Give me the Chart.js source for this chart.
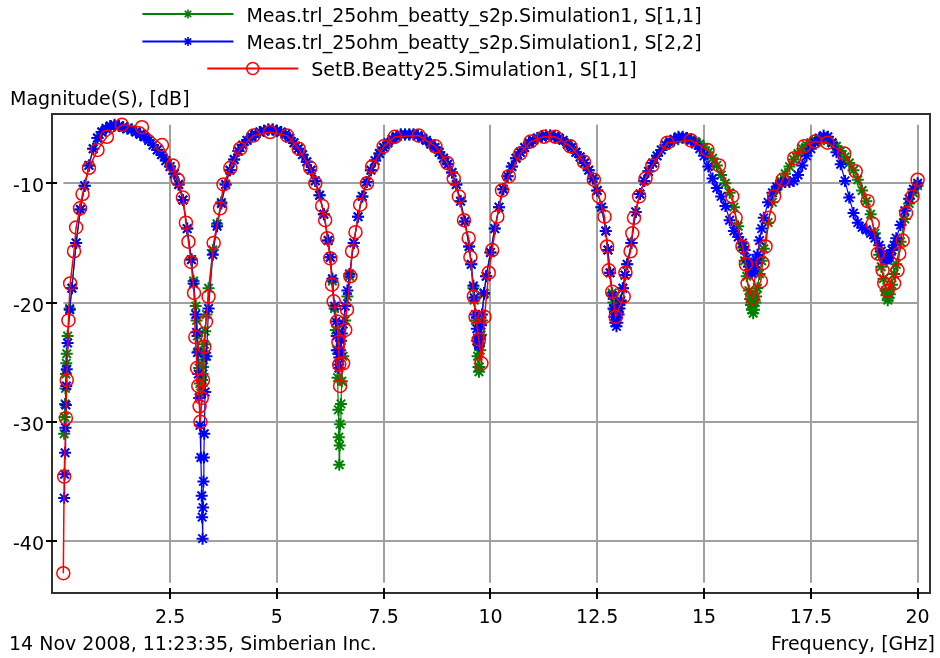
<!DOCTYPE html>
<html lang="en">
<head>
  <meta charset="UTF-8">
  <title>Magnitude(S), [dB]</title>
  <script src="https://cdn.jsdelivr.net/npm/chart.js"></script>
  <style>
    body { margin: 0; background: #fff; }
    #wrap { width: 940px; height: 658px; }
  </style>
</head>
<body>
  <div id="wrap"><canvas id="sChart" width="940" height="658"></canvas></div>

  <script>
    // Measured sweep (GHz), shared by S[1,1] and S[2,2]
    const measFreq = [
      0.02,0.03,0.04,0.05,0.06,0.07,0.08,0.1,0.15,0.2,
      0.3,0.4,0.5,0.6,0.7,0.8,0.9,1.0,1.1,1.2,
      1.3,1.4,1.5,1.6,1.7,1.8,1.9,2.0,2.1,2.2,
      2.3,2.4,2.5,2.6,2.7,2.8,2.9,3.0,3.05,3.1,
      3.12,3.14,3.16,3.18,3.2,3.22,3.24,3.25,3.26,3.27,
      3.28,3.29,3.3,3.32,3.35,3.4,3.5,3.6,3.7,3.8,
      3.9,4.0,4.1,4.2,4.3,4.4,4.5,4.6,4.7,4.8,
      4.9,5.0,5.1,5.2,5.3,5.4,5.5,5.6,5.7,5.8,
      5.9,6.0,6.1,6.2,6.25,6.3,6.35,6.38,6.4,6.42,
      6.44,6.45,6.46,6.47,6.48,6.5,6.52,6.55,6.6,6.65,
      6.7,6.8,6.9,7.0,7.1,7.2,7.3,7.4,7.5,7.6,
      7.7,7.8,7.9,8.0,8.1,8.2,8.3,8.4,8.5,8.6,
      8.7,8.8,8.9,9.0,9.1,9.2,9.3,9.4,9.5,9.55,
      9.6,9.62,9.65,9.68,9.7,9.72,9.73,9.74,9.76,9.78,
      9.8,9.85,9.9,10.0,10.1,10.2,10.3,10.4,10.5,10.6,
      10.7,10.8,10.9,11.0,11.1,11.2,11.3,11.4,11.5,11.6,
      11.7,11.8,11.9,12.0,12.1,12.2,12.3,12.4,12.5,12.6,
      12.7,12.75,12.8,12.85,12.88,12.9,12.92,12.95,12.97,13.0,
      13.02,13.05,13.1,13.15,13.2,13.3,13.4,13.5,13.6,13.7,
      13.8,13.9,14.0,14.1,14.2,14.3,14.4,14.5,14.6,14.7,
      14.8,14.9,15.0,15.1,15.2,15.3,15.4,15.5,15.6,15.7,
      15.8,15.9,15.95,16.0,16.05,16.08,16.1,16.12,16.15,16.17,
      16.2,16.22,16.25,16.3,16.35,16.4,16.5,16.6,16.7,16.8,
      16.9,17.0,17.1,17.2,17.3,17.4,17.5,17.6,17.7,17.8,
      17.9,18.0,18.1,18.2,18.3,18.4,18.5,18.6,18.7,18.8,
      18.9,19.0,19.1,19.15,19.2,19.25,19.27,19.3,19.32,19.35,
      19.4,19.45,19.5,19.6,19.7,19.8,19.9,20.0
    ];

    // Meas.trl_25ohm_beatty_s2p.Simulation1, S[1,1]  (dB)
    const s11Meas = [
      -31.0,-29.6,-28.5,-27.2,-26.0,-25.1,-24.3,-22.8,-20.5,-18.8,
      -15.0,-12.2,-10.2,-8.5,-7.1,-6.2,-5.7,-5.4,-5.2,-5.2,
      -5.2,-5.3,-5.4,-5.5,-5.7,-5.9,-6.1,-6.4,-6.8,-7.2,
      -7.6,-8.1,-8.6,-9.2,-10.1,-11.4,-13.8,-16.4,-18.2,-20.3,
      -21.5,-22.8,-24.1,-25.5,-26.8,-27.6,-27.0,-26.5,-26.0,-25.4,
      -24.8,-24.1,-23.5,-22.4,-21.0,-18.8,-15.6,-13.4,-11.6,-10.1,
      -8.9,-8.0,-7.3,-6.8,-6.4,-6.1,-5.9,-5.7,-5.6,-5.5,
      -5.5,-5.6,-5.7,-5.9,-6.2,-6.6,-7.1,-7.6,-8.2,-8.9,
      -9.8,-11.0,-12.6,-14.8,-16.2,-18.2,-20.5,-22.3,-24.0,-26.3,
      -29.0,-31.3,-33.6,-32.0,-30.2,-28.5,-26.6,-24.5,-21.5,-19.5,
      -17.8,-15.0,-12.8,-11.1,-9.9,-8.9,-8.1,-7.5,-7.0,-6.6,
      -6.3,-6.1,-5.9,-5.9,-5.9,-5.9,-6.0,-6.2,-6.4,-6.7,
      -7.0,-7.4,-7.9,-8.4,-9.1,-10.1,-11.5,-13.2,-15.3,-16.8,
      -18.8,-19.8,-21.5,-23.2,-24.5,-25.4,-25.8,-25.4,-24.0,-22.7,
      -21.5,-19.3,-17.8,-15.8,-13.8,-12.0,-10.5,-9.4,-8.6,-7.9,
      -7.4,-7.0,-6.6,-6.4,-6.2,-6.1,-6.0,-6.0,-6.1,-6.2,
      -6.4,-6.7,-7.0,-7.4,-7.8,-8.3,-8.9,-9.6,-10.6,-12.0,
      -14.0,-15.6,-17.5,-19.2,-20.0,-20.6,-20.9,-21.0,-20.9,-20.5,
      -20.2,-19.8,-18.8,-17.7,-16.8,-15.0,-12.4,-10.9,-9.8,-9.0,
      -8.3,-7.7,-7.2,-6.8,-6.6,-6.4,-6.3,-6.2,-6.2,-6.3,
      -6.5,-6.7,-7.0,-7.4,-7.9,-8.5,-9.3,-10.0,-10.8,-12.0,
      -13.6,-15.4,-16.5,-17.8,-19.0,-19.7,-20.2,-20.6,-20.9,-20.6,
      -20.0,-19.5,-18.8,-17.6,-16.5,-15.5,-13.3,-11.6,-10.5,-9.8,
      -9.2,-8.6,-8.0,-7.5,-7.1,-6.8,-6.6,-6.4,-6.3,-6.3,
      -6.4,-6.6,-6.9,-7.3,-7.8,-8.3,-8.9,-9.7,-10.6,-11.5,
      -12.6,-14.2,-16.0,-17.0,-18.0,-19.0,-19.4,-19.8,-19.6,-19.3,
      -18.5,-17.6,-16.8,-14.9,-13.0,-11.7,-10.8,-10.2
    ];

    // Meas.trl_25ohm_beatty_s2p.Simulation1, S[2,2]  (dB)
    const s22Meas = [
      -36.4,-34.4,-32.6,-30.5,-28.6,-27.0,-25.6,-23.4,-20.6,-18.8,
      -15.0,-12.2,-10.2,-8.5,-7.1,-6.2,-5.7,-5.4,-5.2,-5.1,
      -5.2,-5.3,-5.4,-5.5,-5.7,-5.9,-6.1,-6.4,-6.8,-7.2,
      -7.6,-8.1,-8.6,-9.2,-10.1,-11.4,-13.8,-16.4,-18.4,-21.0,
      -22.5,-24.2,-26.0,-28.0,-30.3,-33.0,-36.2,-38.0,-39.8,-37.2,
      -35.0,-33.0,-31.0,-27.5,-24.5,-20.5,-16.0,-13.6,-11.7,-10.1,
      -8.9,-8.0,-7.3,-6.8,-6.4,-6.1,-5.9,-5.7,-5.6,-5.5,
      -5.5,-5.6,-5.7,-5.9,-6.2,-6.6,-7.1,-7.6,-8.2,-8.9,
      -9.8,-11.0,-12.6,-14.8,-16.2,-18.0,-20.3,-21.6,-22.8,-24.0,
      -25.2,-25.5,-24.6,-24.3,-24.0,-23.2,-22.6,-21.8,-20.3,-19.0,
      -17.6,-15.0,-12.8,-11.1,-9.9,-8.9,-8.1,-7.5,-7.0,-6.6,
      -6.3,-6.1,-5.9,-5.9,-5.9,-5.9,-6.0,-6.2,-6.4,-6.7,
      -7.0,-7.4,-7.9,-8.4,-9.1,-10.1,-11.5,-13.2,-15.3,-16.8,
      -18.6,-19.6,-21.0,-22.2,-23.0,-23.5,-23.6,-23.4,-22.8,-21.9,
      -21.0,-19.2,-17.8,-15.8,-13.8,-12.0,-10.5,-9.4,-8.6,-7.9,
      -7.4,-7.0,-6.6,-6.4,-6.2,-6.1,-6.0,-6.0,-6.1,-6.2,
      -6.4,-6.7,-7.0,-7.4,-7.8,-8.3,-8.9,-9.6,-10.6,-12.0,
      -14.0,-15.6,-17.5,-19.4,-20.5,-21.2,-21.7,-22.0,-21.7,-21.0,
      -20.5,-19.9,-18.8,-17.7,-16.8,-15.0,-12.4,-10.9,-9.8,-9.0,
      -8.3,-7.7,-7.2,-6.8,-6.5,-6.3,-6.1,-6.1,-6.2,-6.4,
      -6.7,-7.1,-7.7,-8.6,-9.6,-10.4,-11.1,-11.9,-13.1,-14.0,
      -14.5,-15.0,-15.6,-16.3,-17.0,-17.3,-17.5,-17.5,-17.3,-17.1,
      -16.7,-16.4,-16.0,-14.8,-13.8,-12.9,-11.6,-10.8,-10.3,-10.0,
      -9.9,-9.9,-9.8,-9.3,-8.5,-7.7,-7.1,-6.6,-6.2,-6.0,
      -6.1,-6.6,-7.4,-8.4,-9.8,-11.2,-12.5,-13.3,-13.7,-13.9,
      -14.2,-14.6,-15.2,-15.7,-16.1,-16.4,-16.4,-16.3,-16.2,-16.0,
      -15.6,-15.2,-14.6,-13.5,-12.3,-11.3,-10.5,-10.0
    ];

    // SetB.Beatty25.Simulation1, S[1,1] - adaptive sweep (GHz / dB)
    const simFreq = [
      0,0.02,0.06,0.08,0.12,0.16,0.25,0.3,0.39,0.45,
      0.6,0.8,1.02,1.37,1.84,2.31,2.56,2.68,2.8,2.87,
      2.93,2.99,3.06,3.09,3.13,3.16,3.19,3.21,3.24,3.27,
      3.3,3.34,3.4,3.52,3.67,3.75,3.91,4.14,4.45,4.84,
      5.24,5.51,5.78,5.9,6.06,6.13,6.18,6.25,6.29,6.33,
      6.41,6.44,6.46,6.48,6.55,6.6,6.64,6.72,6.76,6.84,
      6.95,7.11,7.23,7.5,7.76,8.32,8.71,8.99,9.14,9.26,
      9.38,9.49,9.53,9.61,9.65,9.73,9.79,9.86,9.96,10.04,
      10.16,10.27,10.43,10.7,10.94,11.25,11.52,11.87,12.19,12.42,
      12.54,12.67,12.73,12.77,12.85,12.93,13.12,13.16,13.28,13.32,
      13.36,13.48,13.63,13.79,14.14,14.69,15.08,15.35,15.66,15.74,
      15.9,15.98,16.02,16.13,16.33,16.37,16.44,16.52,16.64,16.84,
      17.11,17.34,17.6,17.89,18.28,18.55,18.83,18.95,19.07,19.18,
      19.22,19.3,19.45,19.53,19.57,19.65,19.73,19.88,20.0
    ];
    const s11Sim = [
      -42.7,-34.6,-29.7,-26.5,-21.5,-18.4,-15.7,-13.7,-12.1,-10.9,
      -8.7,-7.2,-6.1,-5.1,-5.3,-6.8,-8.5,-9.7,-11.2,-13.3,
      -14.9,-16.6,-19.2,-22.9,-25.5,-27.0,-28.7,-30.0,-28.0,-26.5,
      -23.7,-21.6,-19.5,-15.0,-12.1,-10.1,-8.7,-7.1,-6.0,-5.7,
      -6.0,-7.1,-8.7,-10.0,-11.9,-13.1,-14.6,-16.3,-18.5,-19.9,
      -21.6,-23.3,-25.2,-27.0,-25.1,-22.3,-20.6,-17.8,-15.7,-14.1,
      -11.8,-10.0,-8.6,-6.9,-6.1,-6.0,-6.9,-8.3,-9.6,-11.1,
      -13.1,-14.6,-16.2,-19.5,-21.2,-23.1,-25.1,-21.2,-17.5,-15.6,
      -12.8,-10.6,-9.4,-7.5,-6.5,-6.1,-6.1,-6.9,-8.2,-9.7,
      -11.1,-12.8,-15.3,-17.3,-19.1,-21.2,-19.5,-17.5,-15.7,-14.2,
      -12.9,-11.1,-9.6,-8.5,-6.6,-6.4,-7.2,-8.5,-11.1,-12.9,
      -15.3,-16.8,-18.4,-19.6,-18.2,-16.7,-15.3,-12.9,-11.1,-9.7,
      -7.9,-6.9,-6.5,-6.6,-7.5,-9.0,-11.5,-13.4,-15.9,-17.3,
      -18.4,-19.0,-18.4,-17.3,-15.9,-14.8,-12.5,-11.1,-9.7
    ];

    const seriesNames = [
      'Meas.trl_25ohm_beatty_s2p.Simulation1, S[1,1]',
      'Meas.trl_25ohm_beatty_s2p.Simulation1, S[2,2]',
      'SetB.Beatty25.Simulation1, S[1,1]'
    ];
    const xTickVals = [2.5, 5, 7.5, 10, 12.5, 15, 17.5, 20];
    const yTickVals = [-10, -20, -30, -40];

    const FONT = '19px "DejaVu Sans"';
    const GREEN = 'rgb(0,128,0)', BLUE = 'rgb(0,0,255)', RED = 'rgb(255,0,0)';

    function toPoints(xs, ys) {
      return xs.map((x, i) => ({ x: x, y: ys[i] }));
    }

    // legend marker shapes (same look as the chart points)
    function drawStar(ctx, x, y, r) {
      const d = r * Math.SQRT1_2;
      ctx.beginPath();
      ctx.moveTo(x - r, y); ctx.lineTo(x + r, y);
      ctx.moveTo(x, y - r); ctx.lineTo(x, y + r);
      ctx.moveTo(x - d, y - d); ctx.lineTo(x + d, y + d);
      ctx.moveTo(x - d, y + d); ctx.lineTo(x + d, y - d);
      ctx.stroke();
    }
    function drawCircle(ctx, x, y, r) {
      ctx.beginPath();
      ctx.arc(x, y, r, 0, Math.PI * 2);
      ctx.stroke();
    }

    // grid only spans the data range, frame + ticks + texts + legend
    const decor = {
      id: 'decor',
      beforeDatasetsDraw(chart) {
        const ctx = chart.ctx, xs = chart.scales.x, ys = chart.scales.y;
        const gx0 = xs.getPixelForValue(0), gx1 = xs.getPixelForValue(20);
        const gy0 = ys.getPixelForValue(-5.1), gy1 = ys.getPixelForValue(-43.5);
        ctx.save();
        ctx.strokeStyle = '#a0a0a0';
        ctx.lineWidth = 2;
        ctx.beginPath();
        xTickVals.forEach(v => {
          const px = Math.round(xs.getPixelForValue(v));
          ctx.moveTo(px, gy0); ctx.lineTo(px, gy1);
        });
        yTickVals.forEach(v => {
          const py = Math.round(ys.getPixelForValue(v));
          ctx.moveTo(gx0, py); ctx.lineTo(gx1, py);
        });
        ctx.stroke();
        ctx.restore();
      },
      afterDatasetsDraw(chart) {
        const ctx = chart.ctx, a = chart.chartArea;
        const xs = chart.scales.x, ys = chart.scales.y;
        ctx.save();
        ctx.strokeStyle = '#303030';
        ctx.lineWidth = 2;
        ctx.strokeRect(a.left, a.top, a.right - a.left, a.bottom - a.top);

        ctx.strokeStyle = '#000';
        ctx.beginPath();
        xTickVals.forEach(v => {
          const px = Math.round(xs.getPixelForValue(v));
          ctx.moveTo(px, a.bottom - 5); ctx.lineTo(px, a.bottom + 6);
        });
        yTickVals.forEach(v => {
          const py = Math.round(ys.getPixelForValue(v));
          ctx.moveTo(a.left - 6, py); ctx.lineTo(a.left + 5, py);
        });
        ctx.stroke();

        ctx.fillStyle = '#000';
        ctx.font = FONT;
        ctx.textBaseline = 'alphabetic';
        ctx.textAlign = 'center';
        xTickVals.forEach(v => {
          ctx.fillText(String(v), xs.getPixelForValue(v), 623);
        });
        ctx.textAlign = 'right';
        yTickVals.forEach(v => {
          ctx.fillText(String(v), 44, ys.getPixelForValue(v) + 9);
        });
        ctx.restore();
      },
      afterDraw(chart) {
        const ctx = chart.ctx;
        ctx.save();
        ctx.font = FONT;
        ctx.fillStyle = '#000';
        ctx.textBaseline = 'alphabetic';
        ctx.textAlign = 'left';
        ctx.fillText('Magnitude(S), [dB]', 10, 105);
        ctx.fillText('14 Nov 2008, 11:23:35, Simberian Inc.', 9, 650);
        ctx.textAlign = 'right';
        ctx.fillText('Frequency, [GHz]', 935, 650);

        // legend, one centred row per dataset
        const rowY = [14, 41.5, 68.5];
        chart.data.datasets.forEach((ds, i) => {
          const tw = ctx.measureText(ds.label).width;
          const x0 = 422 - (91 + 13 + tw) / 2;
          const y = rowY[i];
          ctx.strokeStyle = ds.borderColor;
          ctx.lineWidth = 2;
          ctx.beginPath();
          ctx.moveTo(x0, y); ctx.lineTo(x0 + 91, y);
          ctx.stroke();
          ctx.lineWidth = 1.6;
          if (ds.pointStyle === 'star') drawStar(ctx, x0 + 45.5, y, 4.5);
          else drawCircle(ctx, x0 + 45.5, y, 6);
          ctx.textAlign = 'left';
          ctx.fillText(ds.label, x0 + 104, y + 7.5);
        });
        ctx.restore();
      }
    };

    new Chart(document.getElementById('sChart'), {
      type: 'scatter',
      data: {
        datasets: [
          {
            label: seriesNames[0],
            data: toPoints(measFreq, s11Meas),
            showLine: true,
            borderColor: GREEN,
            backgroundColor: GREEN,
            borderWidth: 1.2,
            pointStyle: 'star',
            pointRadius: 6,
            pointBorderWidth: 2,
            pointBorderColor: GREEN,
            order: 2
          },
          {
            label: seriesNames[1],
            data: toPoints(measFreq, s22Meas),
            showLine: true,
            borderColor: BLUE,
            backgroundColor: BLUE,
            borderWidth: 1.2,
            pointStyle: 'star',
            pointRadius: 6,
            pointBorderWidth: 2,
            pointBorderColor: BLUE,
            order: 1
          },
          {
            label: seriesNames[2],
            data: toPoints(simFreq, s11Sim),
            showLine: true,
            borderColor: RED,
            backgroundColor: 'rgba(0,0,0,0)',
            borderWidth: 1.5,
            pointStyle: 'circle',
            pointRadius: 6.5,
            pointBorderWidth: 1.5,
            pointBorderColor: RED,
            pointBackgroundColor: 'rgba(0,0,0,0)',
            order: 0
          }
        ]
      },
      options: {
        responsive: false,
        animation: false,
        events: [],
        layout: { padding: { left: 52, top: 114, right: 10, bottom: 65 } },
        scales: {
          x: { type: 'linear', min: -0.265, max: 20.29, display: false },
          y: { type: 'linear', min: -44.36, max: -4.19, display: false }
        },
        plugins: {
          legend: { display: false },
          tooltip: { enabled: false }
        }
      },
      plugins: [decor]
    });
  </script>
</body>
</html>
